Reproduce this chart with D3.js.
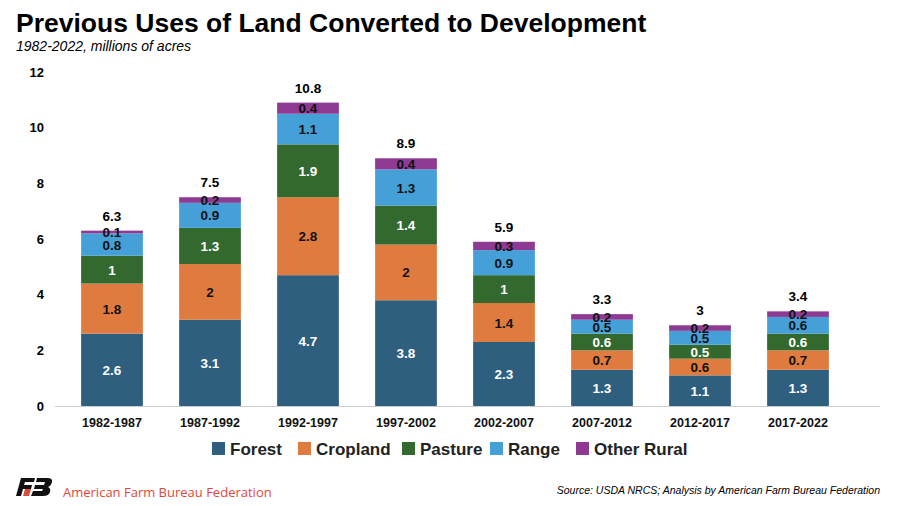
<!DOCTYPE html>
<html><head><meta charset="utf-8">
<script src="https://cdn.jsdelivr.net/npm/d3@7"></script>
<style>body{margin:0;background:#fff;font-family:"Liberation Sans",Arial,sans-serif}</style>
</head><body><svg id="c" width="900" height="506"></svg>
<script>
var periods = ["1982-1987","1987-1992","1992-1997","1997-2002","2002-2007","2007-2012","2012-2017","2017-2022"]
var forest = [2.6,3.1,4.7,3.8,2.3,1.3,1.1,1.3]
var cropland = [1.8,2,2.8,2,1.4,0.7,0.6,0.7]
var pasture = [1,1.3,1.9,1.4,1,0.6,0.5,0.6]
var range = [0.8,0.9,1.1,1.3,0.9,0.5,0.5,0.6]
var otherRural = [0.1,0.2,0.4,0.4,0.3,0.2,0.2,0.2]
var totals = [6.3,7.5,10.8,8.9,5.9,3.3,3,3.4]
var yTicks = [0,2,4,6,8,10,12]

var series = [
  {name:"Forest", vals:forest, color:"#2e5f7f", text:"#fff"},
  {name:"Cropland", vals:cropland, color:"#e07b3f", text:"#111"},
  {name:"Pasture", vals:pasture, color:"#33692e", text:"#fff"},
  {name:"Range", vals:range, color:"#45a0d8", text:"#111"},
  {name:"Other Rural", vals:otherRural, color:"#8e3a93", text:"#111"}
]

var svg = d3.select("#c")
svg.append("text").attr("x",16).attr("y",32).attr("font-size",26.5).attr("font-weight","bold").text("Previous Uses of Land Converted to Development")
svg.append("text").attr("x",16).attr("y",51).attr("font-size",14).attr("font-style","italic").text("1982-2022, millions of acres")

var x = d3.scaleBand().domain(periods).range([63,847]).paddingInner(0.37).paddingOuter(0.185)
var y = d3.scaleLinear().domain([0,12]).range([406,72])

var yAxis = svg.append("g").attr("transform","translate(48,0)").call(d3.axisLeft(y).tickValues(yTicks).tickSize(0).tickPadding(4))
yAxis.select(".domain").remove()
yAxis.selectAll("text").attr("font-size",13).attr("font-weight","bold").attr("font-family","Liberation Sans, Arial")

svg.append("line").attr("x1",55).attr("x2",880).attr("y1",y(0)+0.5).attr("y2",y(0)+0.5).attr("stroke","#ccc")

var xAxis = svg.append("g").attr("transform","translate(0,"+y(0)+")").call(d3.axisBottom(x).tickSize(0).tickPadding(12))
xAxis.select(".domain").remove()
xAxis.selectAll("text").attr("font-size",12.5).attr("font-weight","bold").attr("font-family","Liberation Sans, Arial").attr("fill","#111")

periods.forEach(function(p,i){
  var base = 0
  series.forEach(function(s){
    var v = s.vals[i]
    svg.append("rect").attr("x",x(p)).attr("width",x.bandwidth()).attr("y",y(base+v)).attr("height",y(base)-y(base+v)).attr("fill",s.color)
    svg.append("text").attr("x",x(p)+x.bandwidth()/2).attr("y",y(base+v/2)+5).attr("text-anchor","middle")
      .attr("font-size",13.5).attr("font-weight","bold").attr("fill",s.text).text(v)
    base += v
  })
  svg.append("text").attr("x",x(p)+x.bandwidth()/2).attr("y",y(base)-10).attr("text-anchor","middle")
    .attr("font-size",13.5).attr("font-weight","bold").text(totals[i])
})

var lx = [212,298,402,490,576]
series.forEach(function(s,i){
  svg.append("rect").attr("x",lx[i]).attr("y",442).attr("width",13).attr("height",13).attr("fill",s.color)
  svg.append("text").attr("x",lx[i]+18).attr("y",455).attr("font-size",17).attr("font-weight","bold").attr("fill","#222").text(s.name)
})

// logo
var lg = svg.append("g").attr("transform","translate(17,478)")
lg.append("path").attr("d","M4,0 L18,0 L17,4 L8,4 L7,7 L15,7 L14,11 L6,11 L4,18 L-1,18 Z").attr("fill","#111")
lg.append("path").attr("d","M8,11 L14,11 L12,18 L6,18 Z").attr("fill","#d94c3d")
lg.append("path").attr("d","M20,0 L30,0 Q36,0 35,4 Q34,8 31,9 Q34,10 33,14 Q32,18 26,18 L14,18 L16,13 L25,13 L26,11 L17,11 L18,7 L27,7 L28,4 L19,4 Z").attr("fill","#111")
svg.append("text").attr("x",63).attr("y",497).attr("font-size",13).attr("fill","#e0483a").attr("font-family","Open Sans, sans-serif").text("American Farm Bureau Federation")
svg.append("text").attr("x",880).attr("y",494).attr("text-anchor","end").attr("font-size",10.5).attr("font-style","italic").text("Source: USDA NRCS; Analysis by American Farm Bureau Federation")
</script></body></html>
